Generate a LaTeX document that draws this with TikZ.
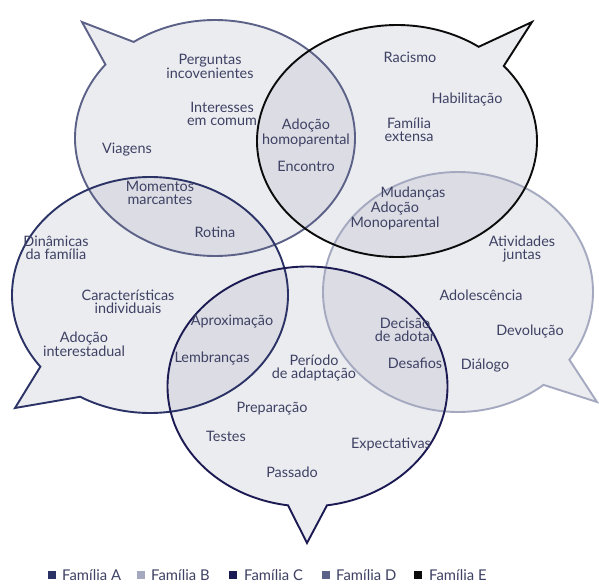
\documentclass[tikz,border=0pt]{standalone}
\usepackage{fontspec}
\setmainfont{Lato}
\begin{document}
\definecolor{famA}{HTML}{2B3366}
\definecolor{famB}{HTML}{A5A9C0}
\definecolor{famC}{HTML}{1C1A52}
\definecolor{famD}{HTML}{5C6187}
\definecolor{famE}{HTML}{0C0C0C}
\definecolor{ink}{HTML}{3E4163}
\definecolor{bubblefill}{HTML}{9397B0}
\begin{tikzpicture}[x=1pt,y=-1pt,
  bubblebg/.style={fill=bubblefill,fill opacity=0.18,draw=none},
  bubbleline/.style={line width=1.9pt,line join=miter,fill=none},
  word/.style={text=ink,align=center,inner sep=0pt,
    font=\fontsize{14.4}{12.9}\selectfont},
  legsq/.style={minimum size=7.5pt,inner sep=0pt,draw=none},
  legtxt/.style={text=ink,anchor=west,inner sep=0pt,
    font=\fontsize{14.8}{14.8}\selectfont}]
\useasboundingbox[fill=white] (0,0) rectangle (599,583);

% speech-bubble outlines: ellipse plus pointed tail
\def\bubbleD{plot[domain=234.5:578.5,samples=200,smooth] ({215+140*cos(\x)},{138+118*sin(\x)}) -- (82,22) -- cycle}
\def\bubbleE{plot[domain=-40.3:305.7,samples=200,smooth] ({397+140*cos(\x)},{141+116*sin(\x)}) -- (532,22) -- cycle}
\def\bubbleA{plot[domain=142.6:480.4,samples=200,smooth] ({150+138*cos(\x)},{295+118*sin(\x)}) -- (15,408) -- cycle}
\def\bubbleB{plot[domain=50.7:394.4,samples=200,smooth] ({458+135*cos(\x)},{292+120*sin(\x)}) -- (597,402) -- cycle}
\def\bubbleC{plot[domain=98:442,samples=200,smooth] ({307.5+140*cos(\x)},{386.5+120*sin(\x)}) -- (307,543) -- cycle}

% translucent fills, so overlaps come out darker
\path[bubblebg] \bubbleD;
\path[bubblebg] \bubbleE;
\path[bubblebg] \bubbleA;
\path[bubblebg] \bubbleB;
\path[bubblebg] \bubbleC;

% outlines
\draw[bubbleline,draw=famB] \bubbleB;
\draw[bubbleline,draw=famD] \bubbleD;
\draw[bubbleline,draw=famA] \bubbleA;
\draw[bubbleline,draw=famC] \bubbleC;
\draw[bubbleline,draw=famE] \bubbleE;

% Família D
\node[word] (perg) at (210,66) {Perguntas\\incovenientes};
\node[word] (inter) at (222,114) {Interesses\\em comum};
\node[word] (viag) at (127,150) {Viagens};
% D and E
\node[word] (homo) at (306,133) {Adoção\\homoparental};
\node[word] (enc) at (306,166) {Encontro};
% D and A
\node[word] (mom) at (160,193) {Momentos\\marcantes};
\node[word] (rot) at (215,232) {Rotina};
% Família E
\node[word] (rac) at (410,57) {Racismo};
\node[word] (hab) at (467,99) {Habilitação};
\node[word] (ext) at (409,130) {Família\\extensa};
% E and B
\node[word] (mud) at (413,193) {Mudanças};
\node[word] (mono) at (395,216) {Adoção\\Monoparental};
% Família A
\node[word] (din) at (56,248) {Dinâmicas\\da família};
\node[word] (car) at (128,302) {Características\\individuais};
\node[word] (inte) at (84,344) {Adoção\\interestadual};
% A and C
\node[word] (apr) at (232,322) {Aproximação};
\node[word] (lem) at (212,358) {Lembranças};
% Família B
\node[word] (ativ) at (522,249) {Atividades\\juntas};
\node[word] (adol) at (481,295) {Adolescência};
\node[word] (devo) at (530,331) {Devolução};
\node[word] (dial) at (485,366) {Diálogo};
% B and C
\node[word] (dec) at (405,330) {Decisão\\de adotar};
\node[word] (des) at (415,363) {Desafios};
% Família C
\node[word] (per) at (314,368) {Período\\de adaptação};
\node[word] (prep) at (272,409) {Preparação};
\node[word] (test) at (226,436) {Testes};
\node[word] (expe) at (391,444) {Expectativas};
\node[word] (pass) at (292,472) {Passado};

% legend
\node[legsq,fill=famA] (sqA) at (52,575) {};
\node[legtxt] (lgA) at (62,575) {Família A};
\node[legsq,fill=famB] (sqB) at (141,575) {};
\node[legtxt] (lgB) at (151,575) {Família B};
\node[legsq,fill=famC] (sqC) at (233,575) {};
\node[legtxt] (lgC) at (244,575) {Família C};
\node[legsq,fill=famD] (sqD) at (326,575) {};
\node[legtxt] (lgD) at (336,575) {Família D};
\node[legsq,fill=famE] (sqE) at (418,575) {};
\node[legtxt] (lgE) at (429,575) {Família E};
\end{tikzpicture}
\end{document}
